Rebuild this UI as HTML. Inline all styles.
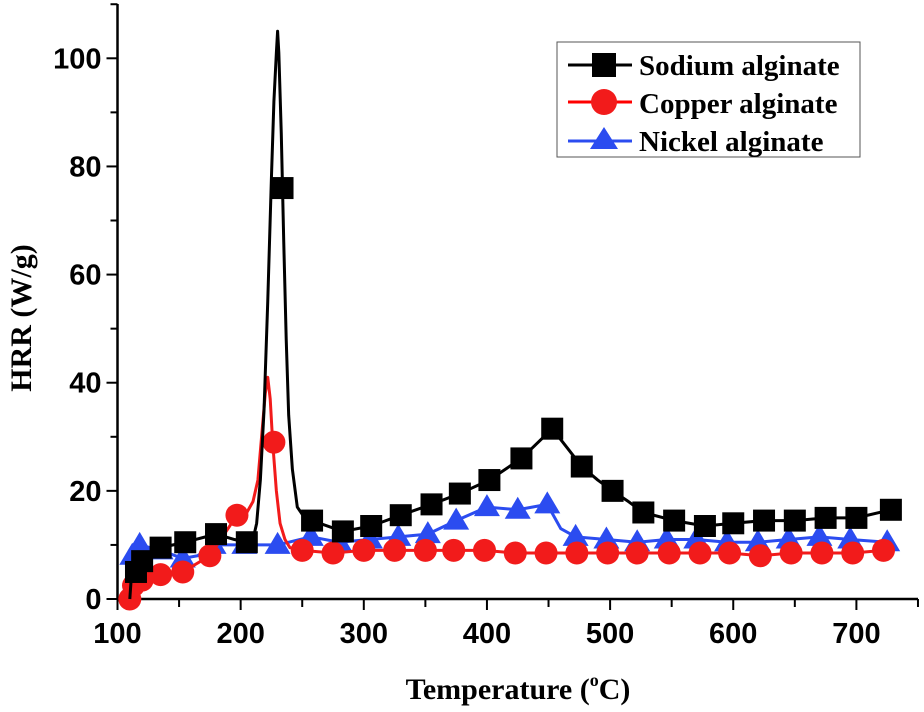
<!DOCTYPE html>
<html><head><meta charset="utf-8"><style>
body{margin:0;background:#fff}
svg{display:block}
.tl{font-family:"Liberation Sans",sans-serif;font-weight:bold;font-size:29px;fill:#000}
.ser{font-family:"Liberation Serif",serif;font-weight:bold;fill:#000}
</style></head><body>
<svg id="c" width="924" height="712" viewBox="0 0 924 712">
<g id="axes"></g>
<g id="series"></g>
<text class="ser" font-size="30" transform="translate(31,318) rotate(-90)" text-anchor="middle">HRR (W/g)</text>
<text class="ser" font-size="30" x="518" y="699" text-anchor="middle">Temperature (<tspan font-size="18" dy="-13">o</tspan><tspan dy="13">C)</tspan></text>
<g>
<rect x="557" y="42" width="303" height="115" fill="#fff" stroke="#555" stroke-width="1"/>
<g><line x1="568" y1="65" x2="632" y2="65" stroke="#000" stroke-width="3"/><rect x="592" y="53" width="24" height="24" fill="#000"/><text class="ser" font-size="29" x="639" y="75">Sodium alginate</text></g>
<g><line x1="568" y1="102" x2="632" y2="102" stroke="#f00" stroke-width="3"/><circle cx="604" cy="102" r="13" fill="#f21b1b"/><text class="ser" font-size="29" x="639" y="113">Copper alginate</text></g>
<g><line x1="568" y1="141" x2="632" y2="141" stroke="#2b4cf0" stroke-width="3"/><polygon points="604,127 618,149 590,149" fill="#2b4cf0"/><text class="ser" font-size="29" x="639" y="151">Nickel alginate</text></g>
</g>
</svg>
<script>
const xTicks=[100,200,300,400,500,600,700];
const yTicks=[0,20,40,60,80,100];
// Sodium alginate
const naLineT=[110,111.5,115,120,135,155,180,195,205,210,213,216,219,222,225,227,229,230,231,233,235,237,239,242,246,252,258,283,306,330,355,378,402,428,453,465,477,490,502,515,527,552,577,600,625,650,675,700,728];
const naLineV=[0,5,6,7,9.5,10.5,12,11,10.5,11,14,22,35,55,78,92,101,105,101,86,66,48,34,24,17,15,14.5,12.5,13.5,15.5,17.5,19.5,22,26,31.5,28,24.5,22,20,18,16,14.5,13.5,14,14.5,14.5,15,15,16.5];
const naMarkT=[115,120,135,155,180,205,234,258,283,306,330,355,378,402,428,453,477,502,527,552,577,600,625,650,675,700,728];
const naMarkV=[5,7,9.5,10.5,12,10.5,76,14.5,12.5,13.5,15.5,17.5,19.5,22,26,31.5,24.5,20,16,14.5,13.5,14,14.5,14.5,15,15,16.5];
// Copper alginate
const cuLineT=[108,110,113,120,135,153,175,197,205,210,214,217,220,222,224,226,229,232,236,240,250,275,300,325,350,373,398,423,448,473,498,522,548,573,597,622,647,672,697,722];
const cuLineV=[0,1,2.5,3.5,4.5,5,8,15.5,16,18,22,30,38,41,37,29,20,14,11,9.5,9,8.5,9,9,9,9,9,8.5,8.5,8.5,8.5,8.5,8.5,8.5,8.5,8,8.5,8.5,8.5,9];
const cuMarkT=[110,113,120,135,153,175,197,227,250,275,300,325,350,373,398,423,448,473,498,522,548,573,597,622,647,672,697,722];
const cuMarkV=[0,2.5,3.5,4.5,5,8,15.5,29,9,8.5,9,9,9,9,9,8.5,8.5,8.5,8.5,8.5,8.5,8.5,8.5,8,8.5,8.5,8.5,9];
// Nickel alginate
const niLineT=[111,112,118,135,153,165,178,203,230,257,280,305,328,352,375,400,425,449,460,472,497,522,546,570,595,620,645,670,695,725];
const niLineV=[0,8,10,9,7.5,8,10,10,10,11.5,10.5,11,11.5,12,14.5,17,16.5,17.5,13,11.5,11,10.5,11,11,10.5,10.5,11,11.5,11,10.5];
const niMarkT=[112,118,135,153,178,203,230,257,280,305,328,352,375,400,425,449,472,497,522,546,570,595,620,645,670,695,725];
const niMarkV=[8,10,9,7.5,10,10,10,11.5,10.5,11,11.5,12,14.5,17,16.5,17.5,11.5,11,10.5,11,11,10.5,10.5,11,11.5,11,10.5];

const X0=117.5,Y0=599,SX=1.2315,SY=5.407;
const xs=t=>X0+(t-100)*SX, ys=v=>Y0-v*SY;
const NS='http://www.w3.org/2000/svg';
function mk(tag,attrs,parent){const e=document.createElementNS(NS,tag);for(const k in attrs)e.setAttribute(k,attrs[k]);parent.appendChild(e);return e;}
const ax=document.getElementById('axes');
let yl=mk('line',{x1:X0,y1:4,x2:X0,y2:Y0,stroke:'#000','stroke-width':2.5},ax);


let xl=mk('line',{x1:X0,y1:Y0,x2:918,y2:Y0,stroke:'#000','stroke-width':2.5},ax);


for(let t=100;t<=750;t+=50){const l=mk('line',{x1:xs(t),y1:Y0,x2:xs(t),y2:Y0+(t%100?8:11),stroke:'#000','stroke-width':2},ax);

}
for(let v=0;v<=110;v+=10){const l=mk('line',{x1:X0-(v%20?7:11),y1:ys(v),x2:X0,y2:ys(v),stroke:'#000','stroke-width':2},ax);

}
xTicks.forEach(t=>{const e=mk('text',{x:xs(t),y:Y0+44,'text-anchor':'middle',class:'tl'},ax);e.textContent=t;

});
yTicks.forEach(v=>{const e=mk('text',{x:X0-16,y:ys(v)+10,'text-anchor':'end',class:'tl'},ax);e.textContent=v;

});
const sg=document.getElementById('series');
function series(name,lt,lv,mt,mv,col,shape){
 const g=mk('g',{},sg);
 
 
 const p=mk('polyline',{points:lt.map((t,i)=>xs(t)+','+ys(lv[i])).join(' '),fill:'none',stroke:col,'stroke-width':3,'stroke-linejoin':'round'},g);
 
 
 mt.forEach((t,i)=>{const x=xs(t),y=ys(mv[i]);let m;
  if(shape==='sq')m=mk('rect',{x:x-11,y:y-11,width:22,height:22,fill:col},g);
  else if(shape==='ci')m=mk('circle',{cx:x,cy:y,r:11.5,fill:col},g);
  else m=mk('polygon',{points:`${x},${y-13} ${x+13},${y+9} ${x-13},${y+9}`,fill:col},g);
  
  });
}
series('nickel',niLineT,niLineV,niMarkT,niMarkV,'#2b4cf0','tr');
series('copper',cuLineT,cuLineV,cuMarkT,cuMarkV,'#f21b1b','ci');
series('sodium',naLineT,naLineV,naMarkT,naMarkV,'#000','sq');
</script>
</body></html>
